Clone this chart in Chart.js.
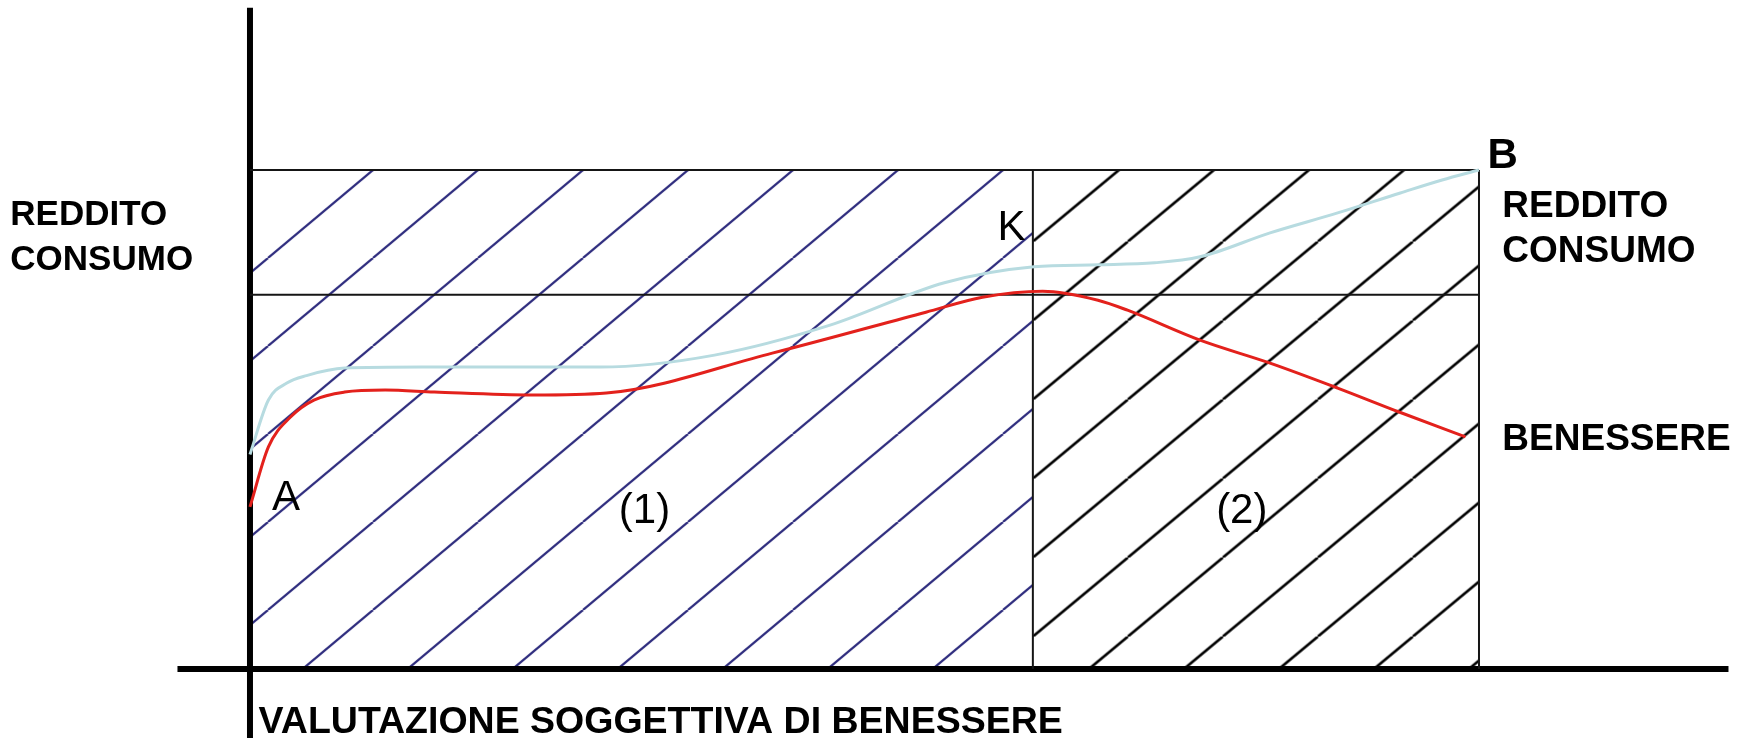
<!DOCTYPE html>
<html>
<head>
<meta charset="utf-8">
<script src="https://cdn.jsdelivr.net/npm/chart.js@4.4.0/dist/chart.umd.min.js"></script>
<style>
  body { margin: 0; background: #fff; }
  #wrap { position: relative; width: 1742px; height: 738px; }
</style>
</head>
<body>
<div id="wrap"><canvas id="diagram"></canvas></div>
<script>
// visible window of the diagram, in diagram units (A..B box is 0..100 x 0..100)
var xRange = [-20.34, 121.40];
var yRange = [-13.83, 134.07];

// box and axes
var kX = 63.7;        // K, where the two zones meet
var rightX = 100;     // B
var topLevel = 100;   // B level
var kLevel = 75;      // K level
var axisX = [-5.9, 120.3];
var axisY = [-13.83, 132.5];

// BENESSERE (red)
var benessereX = [0, 1.5, 3.3, 5.2, 7.7, 11, 15, 23, 29, 42.5, 55, 59.6, 64.5, 69, 71.4, 77.3, 83, 88.5, 93.5, 98.9];
var benessereY = [32.5, 44.5, 50.5, 53.9, 55.5, 55.9, 55.5, 54.9, 55.3, 63.3, 71.5, 74.5, 75.7, 73.9, 71.9, 65.9, 61.3, 56.3, 51.5, 46.5];

// REDDITO CONSUMO (light blue)
var redditoX = [0, 1.5, 3.0, 4.6, 7.7, 14, 28.5, 37.8, 47.2, 56.5, 63.8, 69, 73.6, 77.3, 83, 88.5, 93.6, 97, 100];
var redditoY = [43, 53.9, 57.3, 58.8, 60.3, 60.5, 60.5, 62.9, 68.9, 77.4, 80.6, 81.0, 81.4, 82.6, 87.4, 91.4, 95.4, 98.0, 100];

var labels = [
  { text: 'REDDITO', x: -19.5, y: 89.0, font: 'bold 35px', align: 'left' },
  { text: 'CONSUMO', x: -19.5, y: 80.0, font: 'bold 35px', align: 'left' },
  { text: 'REDDITO', x: 101.9, y: 90.6, font: 'bold 37px', align: 'left' },
  { text: 'CONSUMO', x: 101.9, y: 81.6, font: 'bold 37px', align: 'left' },
  { text: 'BENESSERE', x: 101.9, y: 43.9, font: 'bold 37px', align: 'left' },
  { text: 'VALUTAZIONE SOGGETTIVA DI BENESSERE', x: 0.7, y: -12.8, font: 'bold 37.5px', align: 'left' },
  { text: 'A', x: 1.8, y: 31.9, font: '42px', align: 'left' },
  { text: 'K', x: 63.1, y: 86.0, font: '42px', align: 'right' },
  { text: 'B', x: 100.7, y: 100.4, font: 'bold 42px', align: 'left' },
  { text: '(1)', x: 32.1, y: 29.3, font: '42px', align: 'center' },
  { text: '(2)', x: 80.7, y: 29.3, font: '42px', align: 'center' }
];

function pts(xs, ys) {
  return xs.map(function (x, i) { return { x: x, y: ys[i] }; });
}

// diagonal hatching tile: one line from bottom-left to top-right
function hatch(color, w, h, lw) {
  var c = document.createElement('canvas');
  c.width = w; c.height = h;
  var g = c.getContext('2d');
  g.strokeStyle = color;
  g.lineWidth = lw;
  [-w, 0, w].forEach(function (dx) {
    g.beginPath();
    g.moveTo(dx, h);
    g.lineTo(dx + w, 0);
    g.stroke();
  });
  return g.createPattern(c, 'repeat');
}

var blueHatch = hatch('#2d2b7d', 105, 88, 2.2);
var blackHatch = hatch('#000000', 95, 79, 2.6);

// anchor the hatching to the box
var hatchAnchor = {
  id: 'hatchAnchor',
  beforeDatasetsDraw: function (chart) {
    var sx = chart.scales.x, sy = chart.scales.y;
    blueHatch.setTransform(new DOMMatrix().translate(sx.getPixelForValue(10), sy.getPixelForValue(100) - 88));
    blackHatch.setTransform(new DOMMatrix().translate(sx.getPixelForValue(kX), sy.getPixelForValue(54) - 79));
  }
};

var textLabels = {
  id: 'textLabels',
  afterDatasetsDraw: function (chart) {
    var ctx = chart.ctx, sx = chart.scales.x, sy = chart.scales.y;
    ctx.save();
    ctx.fillStyle = '#000';
    ctx.textBaseline = 'alphabetic';
    labels.forEach(function (l) {
      ctx.font = l.font + " 'Liberation Sans', Arial, sans-serif";
      ctx.textAlign = l.align;
      ctx.fillText(l.text, sx.getPixelForValue(l.x), sy.getPixelForValue(l.y));
    });
    ctx.restore();
  }
};

function seg(data, color, width, order) {
  return { data: data, borderColor: color, borderWidth: width, pointRadius: 0, fill: false, tension: 0, order: order, borderCapStyle: 'butt' };
}

var ctx = document.getElementById('diagram').getContext('2d');
var diagram = new Chart(ctx, {
  type: 'line',
  data: {
    datasets: [
      { data: pts(benessereX, benessereY), borderColor: '#e3211c', borderWidth: 3, pointRadius: 0, fill: false,
        cubicInterpolationMode: 'monotone', order: 0 },
      { data: pts(redditoX, redditoY), borderColor: '#b7dbe0', borderWidth: 3, pointRadius: 0, fill: false,
        cubicInterpolationMode: 'monotone', order: 1 },
      seg([{ x: 0, y: topLevel }, { x: rightX, y: topLevel }], '#151515', 2, 2),
      seg([{ x: 0, y: kLevel }, { x: rightX, y: kLevel }], '#151515', 2, 2),
      seg([{ x: kX, y: 0 }, { x: kX, y: topLevel }], '#151515', 2, 2),
      seg([{ x: rightX, y: 0 }, { x: rightX, y: topLevel }], '#151515', 2, 2),
      seg([{ x: 0, y: axisY[0] }, { x: 0, y: axisY[1] }], '#000', 6, 2),
      seg([{ x: axisX[0], y: 0 }, { x: axisX[1], y: 0 }], '#000', 6, 2),
      // zone (1): the top-left corner is left unhatched
      { data: [{ x: 0, y: 94 }, { x: 3, y: topLevel }, { x: kX, y: topLevel }], borderWidth: 0, borderColor: 'rgba(0,0,0,0)',
        pointRadius: 0, fill: 'origin', backgroundColor: blueHatch, tension: 0, order: 3 },
      // zone (2)
      { data: [{ x: kX, y: topLevel }, { x: rightX, y: topLevel }], borderWidth: 0, borderColor: 'rgba(0,0,0,0)',
        pointRadius: 0, fill: 'origin', backgroundColor: blackHatch, tension: 0, order: 3 }
    ]
  },
  options: {
    responsive: true,
    maintainAspectRatio: false,
    animation: false,
    events: [],
    layout: { padding: 0 },
    plugins: {
      legend: { display: false },
      tooltip: { enabled: false }
    },
    scales: {
      x: { type: 'linear', min: xRange[0], max: xRange[1], display: false },
      y: { type: 'linear', min: yRange[0], max: yRange[1], display: false }
    }
  },
  plugins: [hatchAnchor, textLabels]
});
</script>
</body>
</html>
